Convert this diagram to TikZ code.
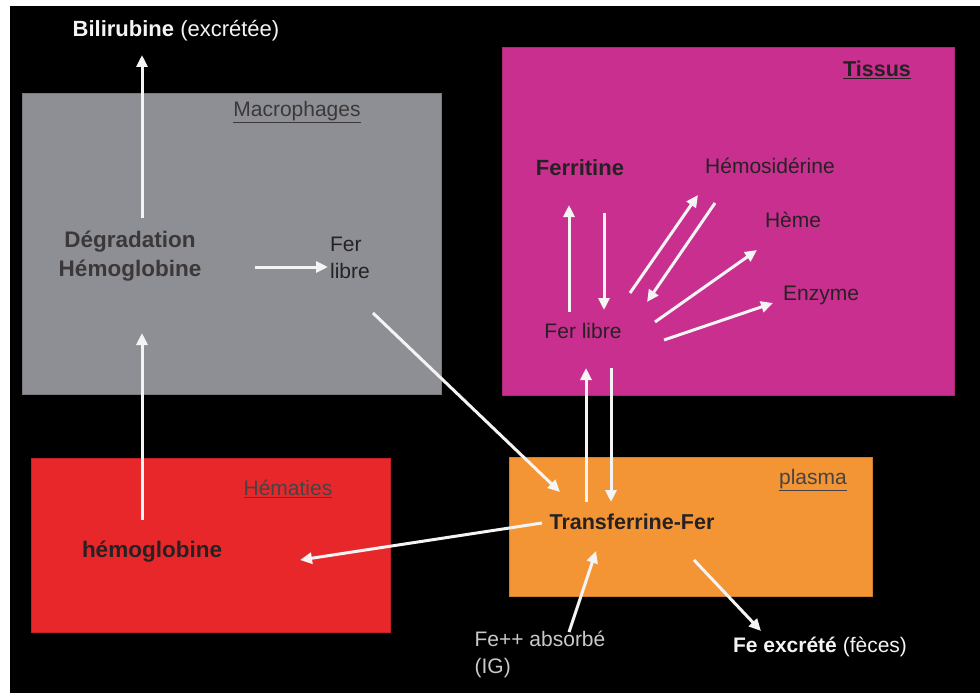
\documentclass[tikz,border=0pt]{standalone}
\usepackage{fontspec}
\setmainfont{Liberation Sans}
\usepackage{tikz}
\usetikzlibrary{arrows.meta,calc}
\definecolor{macgray}{HTML}{8D8F94}
\definecolor{tismag}{HTML}{C92F8E}
\definecolor{redcell}{HTML}{E8272B}
\definecolor{plasmaor}{HTML}{F39535}
\definecolor{ink}{HTML}{262224}
\definecolor{pale}{HTML}{F4F4F4}
\definecolor{soft}{HTML}{C9C9C9}
\tikzset{
  zone/.style ={anchor=north west, inner sep=0pt, fill=#1, draw=#1!85!black, line width=0.6pt},
  lbl/.style  ={font=\fontsize{21}{27}\selectfont, text=ink, inner sep=0pt, align=center},
  key/.style  ={font=\fontsize{22}{29}\selectfont\bfseries, text=ink, inner sep=0pt, align=center},
  flow/.style ={draw=pale, line width=3pt, -{Triangle[length=12pt,width=11pt]}},
}

\begin{document}
\begin{tikzpicture}[x=1pt,y=-1pt]
  % ---------------------------------------------------------------- page
  \fill[white] (0,0) rectangle (980,693);
  \fill[black] (10,6) rectangle (980,693);
  \useasboundingbox (0,0) rectangle (980,693);

  % ---------------------------------------------------------------- compartments
  \node[zone=macgray,  minimum width=419pt, minimum height=301pt] (macbox) at (22,93)  {};
  \node[zone=tismag,   minimum width=452pt, minimum height=348pt] (tisbox) at (502,47) {};
  \node[zone=redcell,  minimum width=359pt, minimum height=174pt] (hembox) at (31,458) {};
  \node[zone=plasmaor, minimum width=363pt, minimum height=139pt] (plabox) at (509,457) {};

  % ---------------------------------------------------------------- macrophages
  \node[lbl, font=\fontsize{22}{28}\selectfont, text=pale] (bili) at (176,31)
        {\textbf{Bilirubine} (excrétée)};
  \node[lbl, text=ink!90] (mac) at (297,112) {\underline{Macrophages}};
  \node[key, font=\fontsize{22.5}{29}\selectfont\bfseries, text=ink!90] (deg) at (130,256)
        {Dégradation\\Hémoglobine};
  \node[lbl, align=left] (fer1) at (350,258) {Fer\\libre};

  % ---------------------------------------------------------------- hematies
  \node[lbl, text=ink!85] (hem) at (288,489) {\underline{Hématies}};
  \node[key, font=\fontsize{22.5}{29}\selectfont\bfseries] (hgb) at (152,552) {hémoglobine};

  % ---------------------------------------------------------------- tissus
  \node[key, font=\fontsize{21.5}{28}\selectfont\bfseries] (tis) at (877,70) {\underline{Tissus}};
  \node[key] (ferr) at (580,168) {Ferritine};
  \node[lbl] (hemo) at (770,166) {Hémosidérine};
  \node[lbl] (heme) at (793,220) {Hème};
  \node[lbl] (enz)  at (821,295) {Enzyme};
  \node[lbl] (fl)   at (583,331) {Fer libre};

  % ---------------------------------------------------------------- plasma
  \node[lbl, text=ink!85] (pla) at (813,480) {\underline{plasma}};
  \node[key, font=\fontsize{21.5}{28}\selectfont\bfseries] (trf) at (632,522) {Transferrine-Fer};
  \node[lbl, text=soft, align=left] (abs) at (540,654) {Fe++ absorbé\\(IG)};
  \node[lbl, text=pale] (exc) at (820,647) {\textbf{Fe excrété} (fèces)};

  % ---------------------------------------------------------------- flows
  \draw[flow] ($(deg)+(12,-38)$)  -- ($(bili)+(-34,24)$);
  \draw[flow] ($(deg)+(125,11)$)  -- ($(fer1)+(-22,9)$);
  \draw[flow] ($(fer1)+(23,55)$)  -- ($(trf)+(-72,-30)$);
  \draw[flow] ($(hgb)+(-10,-32)$) -- ($(deg)+(12,77)$);
  \draw[flow] ($(trf)+(-90,1)$)   -- ($(hgb)+(148,8)$);
  % exchanges inside the tissues
  \draw[flow] ($(fl)+(-14,-19)$)  -- ($(ferr)+(-11,37)$);
  \draw[flow] ($(ferr)+(24,45)$)  -- ($(fl)+(21,-21)$);
  \draw[flow] ($(fl)+(47,-38)$)   -- ($(hemo)+(-72,29)$);
  \draw[flow] ($(hemo)+(-55,37)$) -- ($(fl)+(64,-29)$);
  \draw[flow] ($(fl)+(72,-9)$)    -- ($(heme)+(-36,30)$);
  \draw[flow] ($(fl)+(81,9)$)     -- ($(enz)+(-48,8)$);
  % plasma <-> tissues
  \draw[flow] ($(trf)+(-46,-20)$) -- ($(fl)+(3,37)$);
  \draw[flow] ($(fl)+(28,37)$)    -- ($(trf)+(-21,-20)$);
  % intake and loss
  \draw[flow] ($(abs)+(29,-22)$)  -- ($(trf)+(-36,29)$);
  \draw[flow] ($(trf)+(62,38)$)   -- ($(exc)+(-59,-16)$);
\end{tikzpicture}
\end{document}
